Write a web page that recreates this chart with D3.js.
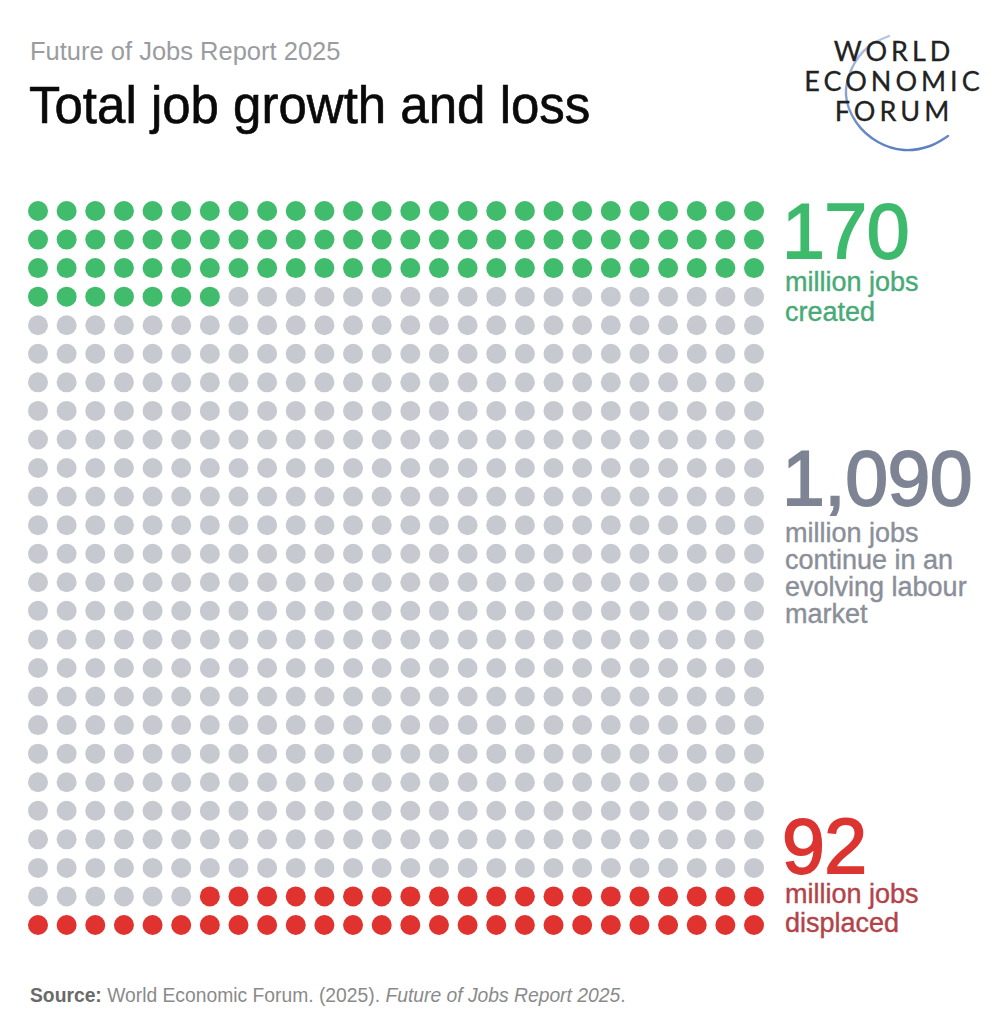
<!DOCTYPE html>
<html>
<head>
<meta charset="utf-8">
<script src="https://cdn.jsdelivr.net/npm/d3@7"></script>
<style>
  html, body { margin: 0; padding: 0; background: #ffffff; }
  svg { display: block; }
</style>
</head>
<body>
<div id="chart"></div>
<script>
// chart data: million jobs per group, each dot = 2 million jobs
const categories = ["created", "continue", "displaced"];
const jobValues = [170, 1090, 92];
const millionsPerDot = 2;
const gridSize = 26;
const labelLines = [
    ["million jobs", "created"],
    ["million jobs", "continue in an", "evolving labour", "market"],
    ["million jobs", "displaced"]
];

const width = 1007, height = 1024;

const dotColor = { created: "#41bb6c", continue: "#c6cad0", displaced: "#e0322f" };
const numberColor = { created: "#3eba6d", continue: "#7e8494", displaced: "#dc3431" };
const textColor = { created: "#49aa77", continue: "#8b8f99", displaced: "#b3434a" };

// where each label block sits (number baseline, first line baseline, line step)
const labelLayout = {
    created:   { num: 258, first: 291, step: 30 },
    continue:  { num: 505, first: 542, step: 27 },
    displaced: { num: 873, first: 903, step: 29 }
};

const svg = d3.select("#chart").append("svg")
    .attr("width", width)
    .attr("height", height);

svg.append("rect").attr("width", width).attr("height", height).attr("fill", "#fff");

// header
svg.append("text")
    .attr("x", 30).attr("y", 60)
    .style("font-family", "'Liberation Sans', Arial, sans-serif")
    .style("font-size", "25.5px")
    .style("fill", "#9a9ca1")
    .text("Future of Jobs Report 2025");

svg.append("text")
    .attr("x", 29).attr("y", 123)
    .style("font-family", "'Liberation Sans', Arial, sans-serif")
    .style("font-size", "51px")
    .style("fill", "#0a0a0a")
    .style("stroke", "#0a0a0a")
    .style("stroke-width", 0.6)
    .text("Total job growth and loss");

// logo
const logo = svg.append("g");
const arcPts = [[889, 36], [868, 47], [852, 68], [846, 95], [856, 122], [878, 142], [904, 150], [930, 146], [948, 136]];
const grad = svg.append("defs").append("linearGradient")
    .attr("id", "arcGrad").attr("x1", "0").attr("y1", "0").attr("x2", "0").attr("y2", "1");
grad.append("stop").attr("offset", "0%").attr("stop-color", "#b8c6e3");
grad.append("stop").attr("offset", "100%").attr("stop-color", "#5b7fc0");
logo.append("path")
    .attr("d", d3.line().curve(d3.curveCatmullRom)(arcPts))
    .attr("fill", "none")
    .attr("stroke", "url(#arcGrad)")
    .attr("stroke-width", 2.4)
    .attr("stroke-linecap", "round");

logo.selectAll("text.logo")
    .data(["WORLD", "ECONOMIC", "FORUM"])
    .join("text")
    .attr("class", "logo")
    .attr("x", 894)
    .attr("y", (d, i) => 61 + i * 30)
    .attr("text-anchor", "middle")
    .style("font-family", "Lato, 'Open Sans', sans-serif")
    .style("font-size", "27px")
    .style("letter-spacing", "4px")
    .style("fill", "#222")
    .style("stroke", "#222")
    .style("stroke-width", 0.3)
    .text(d => d);

// dot grid
const dotCounts = jobValues.map(v => Math.round(v / millionsPerDot));
const dots = [];
categories.forEach((c, ci) => {
    for (let k = 0; k < dotCounts[ci]; k++) dots.push(c);
});

const xScale = d3.scalePoint().domain(d3.range(gridSize)).range([38, 754]);
const yScale = d3.scalePoint().domain(d3.range(gridSize)).range([211, 925]);

svg.append("g").selectAll("circle")
    .data(dots)
    .join("circle")
    .attr("cx", (d, i) => xScale(i % gridSize))
    .attr("cy", (d, i) => yScale(Math.floor(i / gridSize)))
    .attr("r", 10)
    .attr("fill", d => dotColor[d]);

// value labels
const fmt = d3.format(",");
const labels = svg.append("g").selectAll("g")
    .data(categories)
    .join("g");

labels.append("text")
    .attr("x", 782)
    .attr("y", d => labelLayout[d].num)
    .style("font-family", "'Liberation Sans', Arial, sans-serif")
    .style("font-size", "77px")
    .style("letter-spacing", "-0.5px")
    .style("fill", d => numberColor[d])
    .style("stroke", d => numberColor[d])
    .style("stroke-width", 1.8)
    .text((d, i) => fmt(jobValues[i]));

labels.each(function (d, i) {
    d3.select(this).selectAll("text.line")
        .data(labelLines[i])
        .join("text")
        .attr("class", "line")
        .attr("x", 785)
        .attr("y", (t, j) => labelLayout[d].first + j * labelLayout[d].step)
        .style("font-family", "'Liberation Sans', Arial, sans-serif")
        .style("font-size", "27px")
        .style("fill", textColor[d])
        .style("stroke", textColor[d])
        .style("stroke-width", 0.4)
        .text(t => t);
});

// source
const src = svg.append("text")
    .attr("x", 30).attr("y", 1002)
    .style("font-family", "'Liberation Sans', Arial, sans-serif")
    .style("font-size", "19.3px")
    .style("fill", "#8a8a8a");
src.append("tspan").style("font-weight", "bold").style("fill", "#6a6a6a").text("Source:");
src.append("tspan").text(" World Economic Forum. (2025). ");
src.append("tspan").style("font-style", "italic").text("Future of Jobs Report 2025");
src.append("tspan").text(".");
</script>
</body>
</html>
